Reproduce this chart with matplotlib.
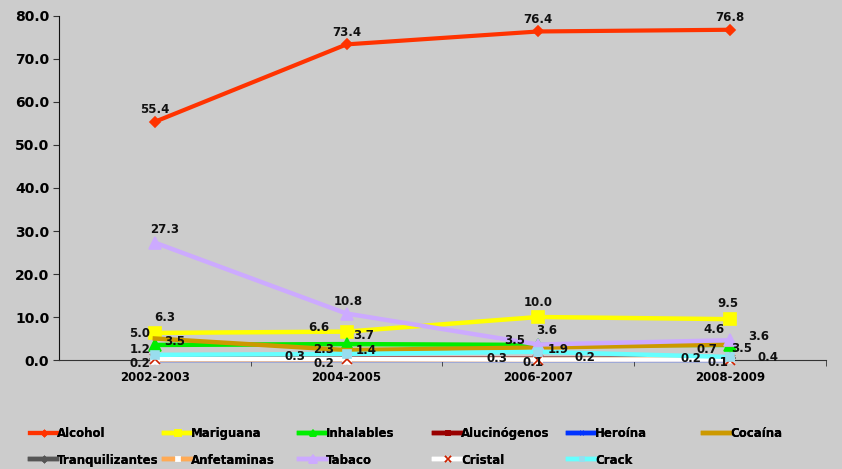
import matplotlib.pyplot as plt

# Datos
periodos = ["2002-2003", "2004-2005", "2006-2007", "2008-2009"]

alcohol = [55.4, 73.4, 76.4, 76.8]
mariguana = [6.3, 6.6, 10.0, 9.5]
inhalables = [3.5, 3.7, 3.5, 3.5]
alucinogenos = [0.3, 0.3, 0.3, 0.2]
heroina = [0.1, 0.1, 0.1, 0.1]
cocaina = [5.0, 2.3, 2.9, 3.6]
tranquilizantes = [0.2, 0.2, 0.2, 0.4]
anfetaminas = [0.1, 0.1, 0.1, 0.2]
tabaco = [27.3, 10.8, 3.6, 4.6]
cristal = [0.2, 0.2, 0.1, 0.1]
crack = [1.2, 1.4, 1.9, 0.7]

# nombre, valores, color, marcador, color marcador, tamaño
series = [
    ("Alcohol", alcohol, "#FF3300", "D", "#FF3300", 5),
    ("Mariguana", mariguana, "#FFFF00", "s", "#FFFF00", 8),
    ("Inhalables", inhalables, "#00EE00", "^", "#00EE00", 8),
    ("Alucinógenos", alucinogenos, "#990000", "s", "#990000", 6),
    ("Heroína", heroina, "#0033FF", "x", "#0033FF", 5),
    ("Cocaína", cocaina, "#CC9900", None, "#CC9900", 5),
    ("Tranquilizantes", tranquilizantes, "#555555", "D", "#555555", 5),
    ("Anfetaminas", anfetaminas, "#FFAA55", "s", "#FFFFFF", 6),
    ("Tabaco", tabaco, "#CCAAFF", "^", "#CCAAFF", 9),
    ("Cristal", cristal, "#FFFFFF", "x", "#CC2200", 7),
    ("Crack", crack, "#66FFFF", "s", "#99DDEE", 6),
]

# etiquetas visibles: (serie, indice) -> desplazamiento en pixeles
etiquetas = {
    ("Alcohol", 0): (0, 12), ("Alcohol", 1): (0, 12),
    ("Alcohol", 2): (0, 12), ("Alcohol", 3): (0, 12),
    ("Mariguana", 0): (10, 15), ("Mariguana", 1): (-28, 4),
    ("Mariguana", 2): (0, 15), ("Mariguana", 3): (-2, 16),
    ("Tabaco", 0): (10, 13), ("Tabaco", 1): (2, 12),
    ("Tabaco", 2): (8, 14), ("Tabaco", 3): (-16, 11),
    ("Inhalables", 0): (20, 3), ("Inhalables", 1): (17, 9),
    ("Inhalables", 2): (-24, 4), ("Inhalables", 3): (12, -4),
    ("Cocaína", 0): (-15, 5), ("Cocaína", 1): (-23, 1), ("Cocaína", 3): (29, 8),
    ("Crack", 0): (-15, 5), ("Crack", 1): (20, 3),
    ("Crack", 2): (20, 2), ("Crack", 3): (-23, 7),
    ("Cristal", 0): (-15, -4), ("Cristal", 1): (-23, -4),
    ("Cristal", 2): (-5, -3), ("Cristal", 3): (-12, -3),
    ("Alucinógenos", 0): (140, 2), ("Alucinógenos", 2): (-41, 0),
    ("Alucinógenos", 3): (-39, 1),
    ("Tranquilizantes", 2): (47, 2), ("Tranquilizantes", 3): (38, 1),
}

fondo = "#CCCCCC"
fig = plt.figure(figsize=(8.42, 4.69), dpi=100, facecolor=fondo)
ax = fig.add_axes([0.070, 0.2324, 0.911, 0.7335], facecolor=fondo)

x = list(range(len(periodos)))
lineas = {}
for i, (nombre, valores, color, marcador, mcolor, ms) in enumerate(series):
    ln, = ax.plot(x, valores, color=color, linewidth=3.2, marker=marcador,
                  markersize=ms, markerfacecolor=mcolor, markeredgecolor=mcolor,
                  markeredgewidth=1.2, label=nombre, zorder=3 + i, clip_on=False)
    lineas[nombre] = ln
lineas["Alcohol"].set_zorder(20)
lineas["Alcohol"].set_linewidth(3)

valores_por_nombre = {s[0]: s[1] for s in series}
for (nombre, idx), (dx, dy) in etiquetas.items():
    v = valores_por_nombre[nombre]
    ax.annotate(f"{v[idx]:.1f}", (x[idx], v[idx]), xytext=(dx, dy),
                textcoords="offset pixels", ha="center", va="center",
                fontsize=8.5, fontweight="bold", color="#111111", zorder=30)

ax.set_xlim(-0.5, 3.5)
ax.set_ylim(0, 80)
ax.set_yticks(range(0, 81, 10))
ax.set_yticklabels([f"{t:.1f}" for t in range(0, 81, 10)],
                   fontsize=10, fontweight="bold")
ax.set_xticks(x)
ax.set_xticklabels(periodos, fontsize=8.5, fontweight="bold")
ax.tick_params(axis="x", length=0, pad=8)
ax.set_xticks([0.5, 1.5, 2.5, 3.5], minor=True)
ax.tick_params(axis="x", which="minor", length=4, color="#333333")
ax.tick_params(axis="y", length=4, color="#333333", pad=3)
for lado in ["top", "right"]:
    ax.spines[lado].set_visible(False)
ax.spines["left"].set_color("#111111")
ax.spines["bottom"].set_color("#333333")

# leyenda: una columna por cada posicion
columnas = [["Alcohol", "Tranquilizantes"], ["Mariguana", "Anfetaminas"],
            ["Inhalables", "Tabaco"], ["Alucinógenos", "Cristal"],
            ["Heroína", "Crack"], ["Cocaína"]]
x_col = [30, 164, 299, 434, 568, 703]
for nombres, xc in zip(columnas, x_col):
    leg = fig.legend([lineas[n] for n in nombres], nombres, loc="upper left",
                     bbox_to_anchor=(xc / 842, 1 - 427 / 469), frameon=False,
                     handlelength=2.3, handletextpad=0.0, borderpad=0,
                     borderaxespad=0, labelspacing=1.15, markerscale=0.6,
                     prop={"size": 8.5, "weight": "bold"})
    fig.add_artist(leg)

fig.savefig("out.png", dpi=100, facecolor=fondo)
